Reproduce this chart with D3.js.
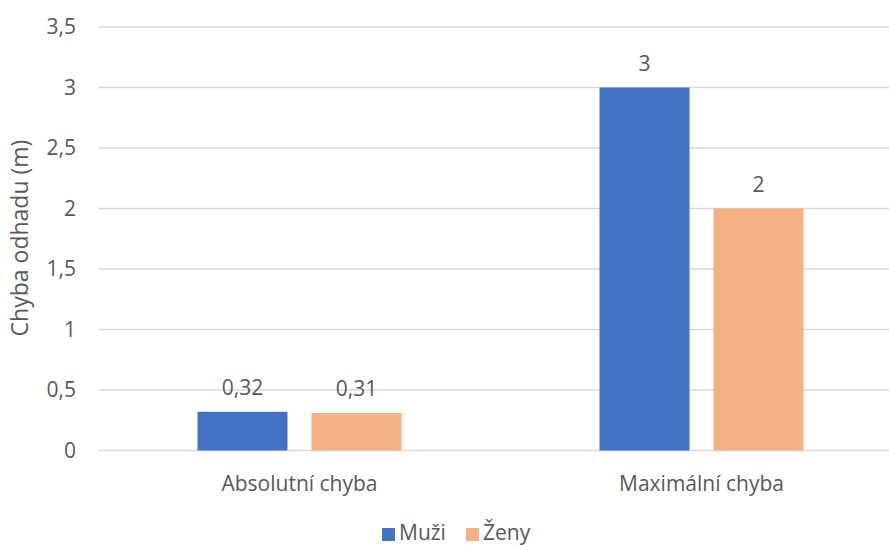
<!DOCTYPE html>
<html><head><meta charset="utf-8">
<script src="https://cdn.jsdelivr.net/npm/d3@7"></script>
<style>body{margin:0;background:#fff}svg{display:block}text{font-family:"Open Sans","Noto Sans",sans-serif;fill:#595959}</style>
</head><body><svg id="c" width="889" height="545"></svg>
<script>
const categories = ["Absolutní chyba", "Maximální chyba"];
const seriesNames = ["Muži", "Ženy"];
const muzi = [0.32, 3];
const zeny = [0.31, 2];
const yTicks = [0, 0.5, 1, 1.5, 2, 2.5, 3, 3.5];
const colors = ["#4472C4", "#F4B183"];
const series = [muzi, zeny];

const svg = d3.select("#c");
const fmt = v => String(v).replace(".", ",");
const x0 = d3.scaleBand().domain(categories).range([98.5, 902.5]).paddingInner(0).paddingOuter(0);
const y = d3.scaleLinear().domain([0, 3.5]).range([450.5, 27]);
const barW = 90, gap = 24;

// gridlines
svg.append("g").selectAll("line").data(yTicks).join("line")
  .attr("x1", 98.5).attr("x2", 889)
  .attr("y1", d => y(d)).attr("y2", d => y(d))
  .attr("stroke", "#d9d9d9").attr("stroke-width", 1.5);

// y tick labels
svg.append("g").selectAll("text").data(yTicks).join("text")
  .attr("x", 76).attr("y", d => y(d)).attr("dy", "0.35em")
  .attr("text-anchor", "end").attr("font-size", 21)
  .text(d => fmt(d));

// y title
svg.append("text").attr("transform", "translate(20,238) rotate(-90)")
  .attr("text-anchor", "middle").attr("font-size", 23).attr("dy", "0.35em")
  .text("Chyba odhadu (m)");

// bars
series.forEach((s, si) => {
  const g = svg.append("g");
  const xPos = (c) => x0(c) + x0.bandwidth() / 2 - (2 * barW + gap) / 2 + si * (barW + gap);
  g.selectAll("rect").data(categories).join("rect")
    .attr("x", (c) => xPos(c)).attr("width", barW)
    .attr("y", (c, i) => y(s[i])).attr("height", (c, i) => y(0) - y(s[i]))
    .attr("fill", colors[si]);
  g.selectAll("text").data(categories).join("text")
    .attr("x", c => xPos(c) + barW / 2).attr("y", (c, i) => y(s[i]) - 17)
    .attr("text-anchor", "middle").attr("font-size", 21)
    .text((c, i) => fmt(s[i]));
});

// category labels
svg.append("g").selectAll("text").data(categories).join("text")
  .attr("x", c => x0(c) + x0.bandwidth() / 2).attr("y", 491)
  .attr("text-anchor", "middle").attr("font-size", 21)
  .text(d => d);

// legend
const leg = svg.append("g");
const legX = [382, 466];
seriesNames.forEach((n, i) => {
  leg.append("rect").attr("x", legX[i]).attr("y", 528).attr("width", 13).attr("height", 13).attr("fill", colors[i]);
  leg.append("text").attr("x", legX[i] + 17).attr("y", 540).attr("font-size", 21).text(n);
});
</script></body></html>
